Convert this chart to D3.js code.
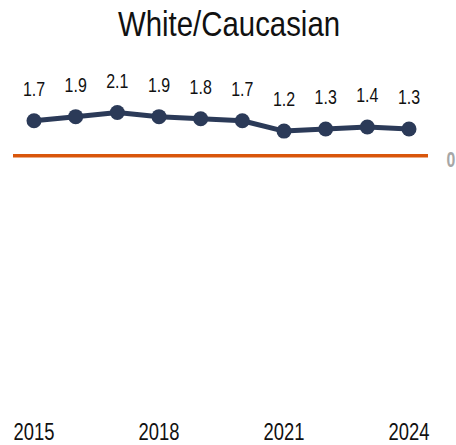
<!DOCTYPE html>
<html>
<head>
<meta charset="utf-8">
<script src="https://cdn.jsdelivr.net/npm/d3@7"></script>
<style>
  body { margin: 0; background: #fff; }
  text { font-family: "Liberation Sans", Arial, sans-serif; }
</style>
</head>
<body>
<script>
const title = "White/Caucasian"
const years = [2015, 2016, 2017, 2018, 2019, 2020, 2021, 2022, 2023, 2024]
const values = [1.7, 1.9, 2.1, 1.9, 1.8, 1.7, 1.2, 1.3, 1.4, 1.3]
const tickYears = [2015, 2018, 2021, 2024]
const zeroLabel = "0"

// no narrow font installed, so squeeze Liberation Sans horizontally
const squeeze = 0.8

function drawChart(){
    const width = 456
    const height = 445

    const svg = d3.select("body").append("svg")
        .attr("width", width)
        .attr("height", height)

    const x = d3.scaleLinear()
        .domain([2015, 2024])
        .range([34, 409])

    const y = d3.scaleLinear()
        .domain([-12, 3])
        .range([403, 94])

    svg.append("text")
        .attr("transform", "translate(229,36) scale(0.84,1)")
        .attr("text-anchor", "middle")
        .attr("font-size", 35)
        .attr("fill", "#111")
        .text(title)

    // zero line
    svg.append("line")
        .attr("x1", 13)
        .attr("x2", 428)
        .attr("y1", y(0))
        .attr("y2", y(0))
        .attr("stroke", "#d9560b")
        .attr("stroke-width", 3.5)

    svg.append("text")
        .attr("transform", `translate(451,${y(0) + 11}) scale(0.72,1)`)
        .attr("text-anchor", "middle")
        .attr("font-size", 22)
        .attr("font-weight", "bold")
        .attr("fill", "#a6a6a6")
        .text(zeroLabel)

    const data = years.map((yr, i) => ({year: yr, value: values[i]}))

    const line = d3.line()
        .x(d => x(d.year))
        .y(d => y(d.value))

    svg.append("path")
        .datum(data)
        .attr("d", line)
        .attr("fill", "none")
        .attr("stroke", "#2b3a58")
        .attr("stroke-width", 5)
        .attr("stroke-linejoin", "round")

    svg.append("g")
        .selectAll("circle")
        .data(data)
        .join("circle")
        .attr("cx", d => x(d.year))
        .attr("cy", d => y(d.value))
        .attr("r", 7.5)
        .attr("fill", "#2b3a58")

    svg.append("g")
        .selectAll("text")
        .data(data)
        .join("text")
        .attr("transform", d => `translate(${x(d.year)},${y(d.value) - 25}) scale(0.76,1)`)
        .attr("text-anchor", "middle")
        .attr("font-size", 21)
        .attr("fill", "#111")
        .text(d => d.value.toFixed(1))

    // x axis, labels only
    const gx = svg.append("g")
        .attr("transform", "translate(0,440)")

    gx.selectAll("text")
        .data(tickYears)
        .join("text")
        .attr("transform", d => `translate(${x(d)},0) scale(${squeeze},1)`)
        .attr("text-anchor", "middle")
        .attr("font-size", 23)
        .attr("fill", "#111")
        .text(d => d3.format("d")(d))
}

drawChart()
</script>
</body>
</html>
